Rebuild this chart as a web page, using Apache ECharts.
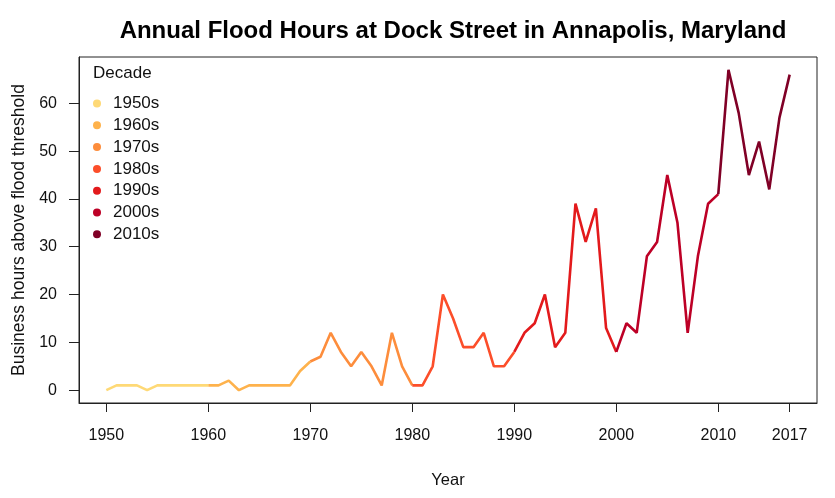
<!DOCTYPE html>
<html>
<head>
<meta charset="utf-8">
<script src="https://cdn.jsdelivr.net/npm/echarts@6/dist/echarts.min.js"></script>
<style>html,body{margin:0;padding:0;background:#fff}#c{width:835px;height:498px}</style>
</head>
<body>
<div id="c"></div>
<script>
var years = [];
for (var y = 1950; y <= 2017; y++) years.push(y);
var hours = [
  0,1,1,1,0,1,1,1,1,1,
  1,1,2,0,1,1,1,1,1,4,
  6,7,12,8,5,8,5,1,12,5,
  1,1,5,20,15,9,9,12,5,5,
  8,12,14,20,9,12,39,31,38,13,
  8,14,12,28,31,45,35,12,28,39,
  41,67,58,45,52,42,57,66
];
var decades = ['1950s','1960s','1970s','1980s','1990s','2000s','2010s'];
var decadeStart = [1950,1960,1970,1980,1990,2000,2010];
var colors = ['#FED976','#FEB24C','#FD8D3C','#FC4E2A','#E31A1C','#BD0026','#800026'];
var xTicks = [1950,1960,1970,1980,1990,2000,2010,2017];
var yTicks = [0,10,20,30,40,50,60];

var FONT = '"Liberation Sans", Arial, Helvetica, sans-serif';
var series = decades.map(function(name, i){
  var s = decadeStart[i], e = s + 10;
  var data = [];
  years.forEach(function(yr, k){ if (yr >= s && yr <= e) data.push([yr, hours[k]]); });
  return {
    name: name, type: 'line', data: data, showSymbol: false, symbol: 'circle',
    lineStyle: { color: colors[i], width: 2.6 }, itemStyle: { color: colors[i] },
    animation: false
  };
});

var chart = echarts.init(document.getElementById('c'), null, { renderer: 'canvas' });
chart.setOption({
  backgroundColor: '#fff',
  animation: false,
  title: {
    text: 'Annual Flood Hours at Dock Street in Annapolis, Maryland',
    left: 448, top: 14, textAlign: 'center',
    textStyle: { fontFamily: FONT, fontSize: 24, fontWeight: 'bold', color: '#000' }
  },
  grid: { left: 79, right: 18, top: 57, bottom: 95, show: true, borderColor: '#222', borderWidth: 1, backgroundColor: 'transparent' },
  legend: {
    orient: 'vertical', left: 88, top: 90, icon: 'circle', itemWidth: 8, itemHeight: 8,
    itemGap: 4.8, data: decades,
    textStyle: { fontFamily: FONT, fontSize: 17, color: '#111', padding: [0,0,0,7] }
  },
  graphic: [{
    type: 'text', left: 93, top: 65,
    style: { text: 'Decade', fontFamily: FONT, fontSize: 17, fill: '#111' }
  }],
  xAxis: {
    type: 'value', min: 1947.32, max: 2019.68,
    name: 'Year', nameLocation: 'middle', nameGap: 69,
    nameTextStyle: { fontFamily: FONT, fontSize: 16.5, color: '#111' },
    axisLine: { show: true, onZero: false, lineStyle: { color: '#222', width: 1 } },
    axisTick: { show: true, length: 9, inside: false, customValues: xTicks, lineStyle: { color: '#222' } },
    axisLabel: { customValues: xTicks, margin: 25, fontFamily: FONT, fontSize: 16, color: '#111',
      formatter: function(v){ return String(v); } },
    splitLine: { show: false }
  },
  yAxis: {
    type: 'value', min: -2.68, max: 69.68,
    name: 'Business hours above flood threshold', nameLocation: 'middle', nameGap: 50,
    nameTextStyle: { fontFamily: FONT, fontSize: 17.5, color: '#111' },
    axisLine: { show: true, onZero: false, lineStyle: { color: '#222', width: 1 } },
    axisTick: { show: true, length: 10, customValues: yTicks, lineStyle: { color: '#222' } },
    axisLabel: { customValues: yTicks, margin: 22, fontFamily: FONT, fontSize: 16, color: '#111' },
    splitLine: { show: false }
  },
  series: series
});
</script>
</body>
</html>
